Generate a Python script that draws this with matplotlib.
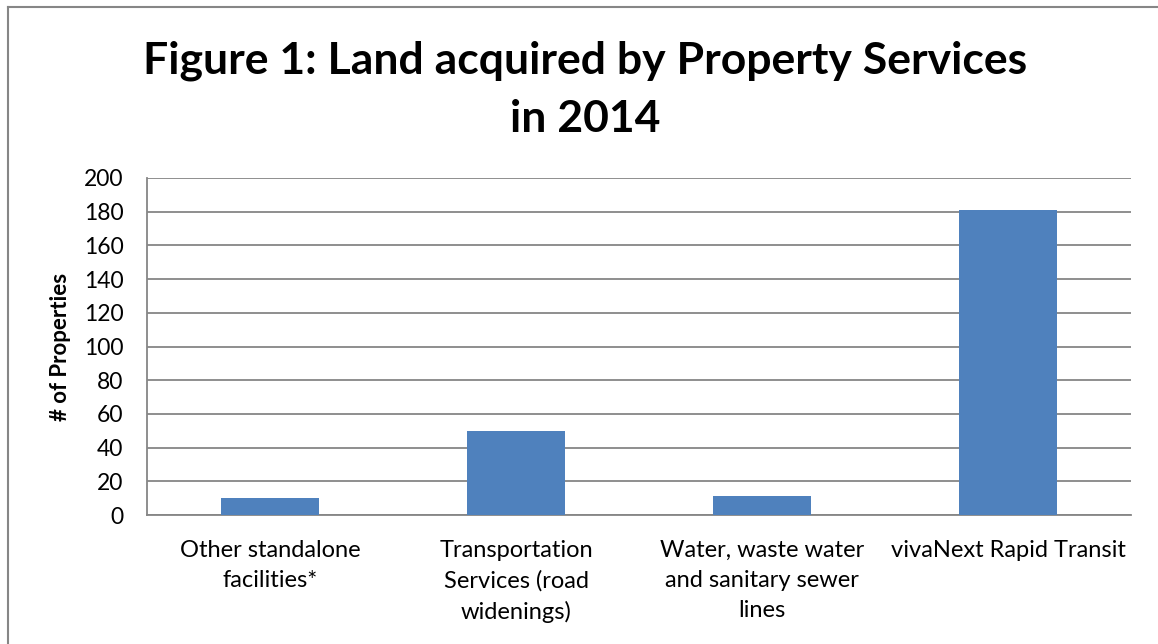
import matplotlib
matplotlib.use("Agg")
import matplotlib.pyplot as plt
from matplotlib.lines import Line2D

plt.rcParams['font.family'] = ['Lato', 'DejaVu Sans']

categories = ['Other standalone\nfacilities*',
              'Transportation\nServices (road\nwidenings)',
              'Water, waste water\nand sanitary sewer\nlines',
              'vivaNext Rapid Transit']
properties = [10, 50, 11, 181]
yticks = [0, 20, 40, 60, 80, 100, 120, 140, 160, 180, 200]

W, H = 1158, 644
fig = plt.figure(figsize=(W / 100, H / 100), dpi=100)
ax = fig.add_axes([147 / W, 1 - 515 / H, (1131 - 147) / W, (515 - 178) / H])

x = range(len(categories))
ax.bar(x, properties, width=0.4, color='#4F81BD', zorder=3)

ax.set_xlim(-0.5, len(categories) - 0.5)
ax.set_ylim(0, 200)
ax.set_yticks(yticks)
ax.set_xticks(list(x))
ax.set_xticklabels(categories, fontsize=17, linespacing=1.52, va='top')
ax.tick_params(axis='x', length=0, pad=18)
ax.tick_params(axis='y', labelsize=16.5, length=0, pad=17)
ax.yaxis.grid(True, color='#868686', linewidth=1.3, zorder=0)

for side in ['top', 'right']:
    ax.spines[side].set_visible(False)
for side in ['left', 'bottom']:
    ax.spines[side].set_color('#868686')
    ax.spines[side].set_linewidth(1.3)

ax.set_ylabel('# of Properties', fontsize=16, fontweight='bold', labelpad=9)

fig.text(585 / W, 1 - 90 / H, 'Figure 1: Land acquired by Property Services\nin 2014',
         ha='center', va='center', fontsize=32, fontweight='bold', linespacing=1.55)

# chart frame (left and top edges visible in the reference)
fig.add_artist(Line2D([8 / W, 8 / W], [0, 1 - 7 / H], transform=fig.transFigure,
                      color='#868686', linewidth=1.5))
fig.add_artist(Line2D([8 / W, 1], [1 - 7 / H, 1 - 7 / H], transform=fig.transFigure,
                      color='#868686', linewidth=1.5))

fig.savefig('out.png', dpi=100)
